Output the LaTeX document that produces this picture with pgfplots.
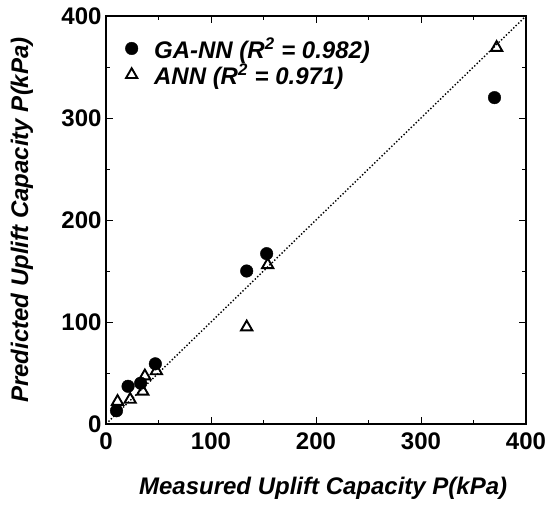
\documentclass[border=0pt]{standalone}
\usepackage{pgfplots}
\pgfplotsset{compat=1.18}
\usepackage{fontspec}
\setmainfont{Liberation Sans}
\begin{document}
\begin{tikzpicture}
\useasboundingbox (-106pt,-80pt) rectangle (447pt,424pt);
\begin{axis}[
 at={(0pt,0pt)}, anchor=south west,
 width=420pt, height=408pt, scale only axis,
 xmin=0, xmax=400, ymin=0, ymax=400,
 xtick={0,100,200,300,400}, ytick={0,100,200,300,400},
 minor xtick={50,150,250,350}, minor ytick={50,150,250,350},
 tick align=inside,
 major tick length=7pt, minor tick length=4pt,
 axis line style={line width=1.8pt},
 every tick/.style={black, line width=0.9pt},
 tick label style={font=\fontsize{24}{24}\selectfont\bfseries},
 xticklabel style={yshift=-5pt},
 yticklabel style={xshift=-1pt},
 /pgf/number format/assume math mode=true,
 xlabel={Measured Uplift Capacity P(kPa)},
 ylabel={Predicted Uplift Capacity P(kPa)},
 label style={font=\fontsize{24}{24}\selectfont\bfseries\itshape},
 xlabel style={at={(axis description cs:0.517,-0.157)}, anchor=center},
 ylabel style={at={(axis description cs:-0.2,0.5)}, anchor=center, rotate=0},
 legend style={draw=none, fill=none, at={(axis description cs:0.031,0.958)}, anchor=north west,
   font=\fontsize{24}{24}\selectfont\bfseries\itshape, row sep=0pt},
 legend cell align=left,
 legend image code/.code={\path (0pt,0pt) (28pt,0pt);\draw[mark repeat=2,mark phase=2,#1] plot coordinates {(0pt,0pt) (8.5pt,0pt) (28pt,0pt)};},
]
\addplot[black, dotted, line width=1.4pt, forget plot] coordinates {(0,0) (400,400)};
\addplot[only marks, mark=*, mark size=6.3pt, black] coordinates {
 (10,13) (21,37) (33,40) (47,59) (134,150) (153,167) (370,320)
};
\addlegendentry{GA-NN (R\textsuperscript{2} = 0.982)}
\addplot[only marks, mark=triangle, mark size=6.5pt, black, line width=1.9pt, mark options={fill=white}] coordinates {
 (11,22) (23,24) (35,32) (37,47) (48,52) (134,95) (154,156) (372,369)
};
\addlegendentry{ANN (R\textsuperscript{2} = 0.971)}
\end{axis}
\end{tikzpicture}
\end{document}
